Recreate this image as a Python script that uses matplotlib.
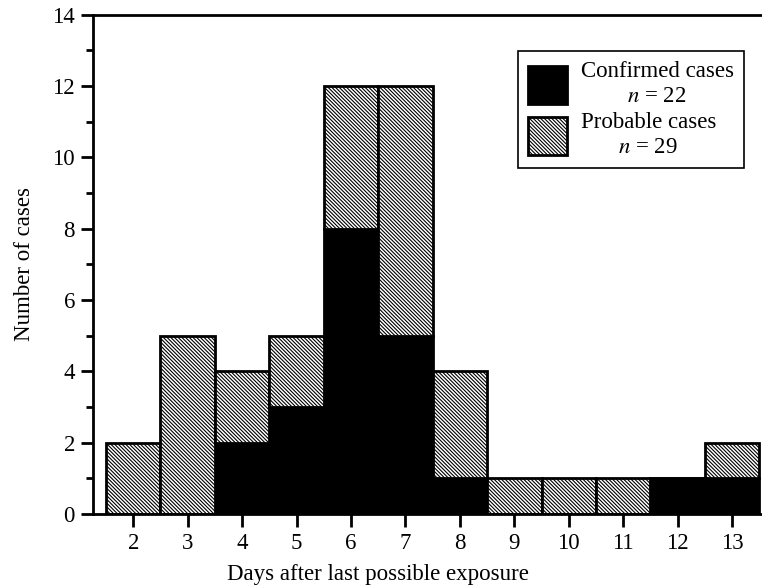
import numpy as np
import matplotlib
matplotlib.use("Agg")
import matplotlib.pyplot as plt
from matplotlib.patches import Patch

plt.rcParams['font.family'] = 'Liberation Serif'
plt.rcParams['mathtext.fontset'] = 'stix'
plt.rcParams['hatch.linewidth'] = 0.8

# Days after last possible exposure
days = [2, 3, 4, 5, 6, 7, 8, 9, 10, 11, 12, 13]
confirmed = [0, 0, 2, 3, 8, 5, 1, 0, 0, 0, 1, 1]
probable = [2, 5, 2, 2, 4, 7, 3, 1, 1, 1, 0, 1]
legend_labels = ['Confirmed cases\n$n$ = 22', 'Probable cases\n$n$ = 29']

hatch = '\\' * 9

fig = plt.figure(figsize=(7.62, 5.88), dpi=100)
ax = fig.add_axes([0.122, 0.126, 0.878, 0.849])

# Confirmed cases (solid black) with probable stacked on top (hatched)
ax.bar(days, confirmed, width=1.0, color='black', edgecolor='black', linewidth=2)
ax.bar(days, probable, width=1.0, bottom=confirmed, color='white',
       edgecolor='black', linewidth=2, hatch=hatch)

ax.set_xlim(1.26, 13.55)
ax.set_ylim(0, 14)
ax.set_xticks(days)
ax.set_yticks(np.arange(0, 15, 2))
ax.set_yticks(np.arange(1, 14, 2), minor=True)

ax.spines['right'].set_visible(False)
for s in ['left', 'bottom', 'top']:
    ax.spines[s].set_linewidth(2)

ax.tick_params(axis='both', which='major', direction='out', length=9, width=2, labelsize=16.5)
ax.tick_params(axis='y', which='minor', direction='out', length=5, width=2)
ax.tick_params(axis='x', pad=5)
ax.tick_params(axis='y', pad=4)

ax.set_xlabel('Days after last possible exposure', fontsize=16.5)
ax.xaxis.set_label_coords(0.426, -0.1)
ax.set_ylabel('Number of cases', fontsize=16.5, labelpad=12)

handles = [Patch(facecolor='black', edgecolor='black', linewidth=2),
           Patch(facecolor='white', edgecolor='black', linewidth=2, hatch=hatch)]
leg = ax.legend(handles, legend_labels, loc='upper right', bbox_to_anchor=(0.99, 0.95),
                fontsize=16.5, frameon=True, fancybox=False, framealpha=1,
                edgecolor='black', handlelength=1.7, handleheight=2.2,
                handletextpad=0.6, labelspacing=0.25, borderpad=0.45)
leg.get_frame().set_linewidth(1.2)
for t in leg.get_texts():
    t.set_multialignment('center')

fig.savefig('out.png', dpi=100)
